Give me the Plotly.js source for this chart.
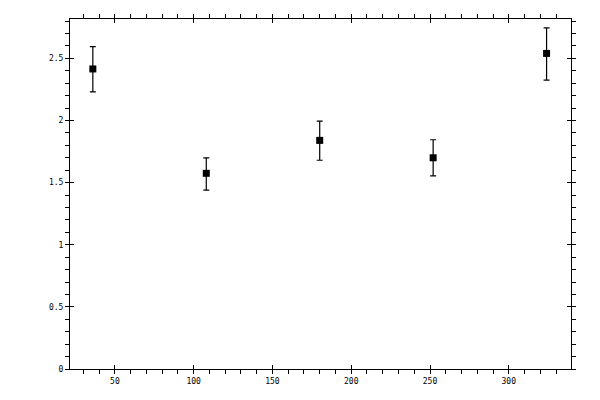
<!DOCTYPE html>
<html>
<head>
<meta charset="utf-8">
<script src="https://cdn.plot.ly/plotly-3.0.1.min.js"></script>
<style>html,body{margin:0;padding:0;background:#fff;}#chart{width:600px;height:400px;}</style>
</head>
<body>
<div id="chart"></div>
<script>
var xValues = [36, 108, 180, 252, 324];
var yValues = [2.415, 1.575, 1.84, 1.70, 2.54];
var errPlus = [0.18, 0.125, 0.155, 0.145, 0.205];
var errMinus = [0.185, 0.135, 0.16, 0.145, 0.215];

var xRange = [21.5, 339.5];
var yRange = [0, 2.817];

var fnt = {family: 'DejaVu Sans Mono, monospace', size: 8, color: '#000'};

var traces = [
  {
    x: xValues, y: yValues, type: 'scatter', mode: 'markers',
    marker: {symbol: 'square', size: 7, color: '#000', line: {width: 0}},
    error_y: {type: 'data', array: errPlus, arrayminus: errMinus, symmetric: false,
              color: '#000', thickness: 1.2, width: 3},
    showlegend: false, hoverinfo: 'skip'
  },
  {
    x: [], y: [], xaxis: 'x2', yaxis: 'y2', type: 'scatter', mode: 'markers',
    showlegend: false, hoverinfo: 'skip'
  }
];

var baseAxis = {
  showline: true, linecolor: '#000', linewidth: 1, showgrid: false, zeroline: false,
  mirror: 'allticks', ticks: 'outside', ticklen: 4, tickwidth: 1, tickcolor: '#000',
  tickfont: fnt
};

var layout = {
  width: 600, height: 400,
  margin: {l: 70, r: 29, t: 19, b: 31},
  paper_bgcolor: '#fff', plot_bgcolor: '#fff',
  font: fnt,
  showlegend: false,
  xaxis: Object.assign({}, baseAxis, {
    range: xRange, tick0: 0, dtick: 50,
    minor: {ticks: 'outside', ticklen: 4, tickwidth: 1, tickcolor: '#000', dtick: 10, tick0: 0, showgrid: false}
  }),
  yaxis: Object.assign({}, baseAxis, {
    range: yRange, tick0: 0, dtick: 0.5,
    minor: {ticks: 'outside', ticklen: 4, tickwidth: 1, tickcolor: '#000', dtick: 0.1, tick0: 0, showgrid: false}
  }),
  xaxis2: {
    overlaying: 'x', anchor: 'y2', range: xRange, tick0: 0, dtick: 50,
    showline: false, showgrid: false, zeroline: false, showticklabels: false,
    mirror: 'allticks', ticks: 'inside', ticklen: 4, tickwidth: 1, tickcolor: '#000', side: 'bottom'
  },
  yaxis2: {
    overlaying: 'y', anchor: 'x2', range: yRange, tick0: 0, dtick: 0.5,
    showline: false, showgrid: false, zeroline: false, showticklabels: false,
    mirror: 'allticks', ticks: 'inside', ticklen: 4, tickwidth: 1, tickcolor: '#000', side: 'left'
  }
};

Plotly.newPlot('chart', traces, layout, {staticPlot: true, displayModeBar: false});
</script>
</body>
</html>
